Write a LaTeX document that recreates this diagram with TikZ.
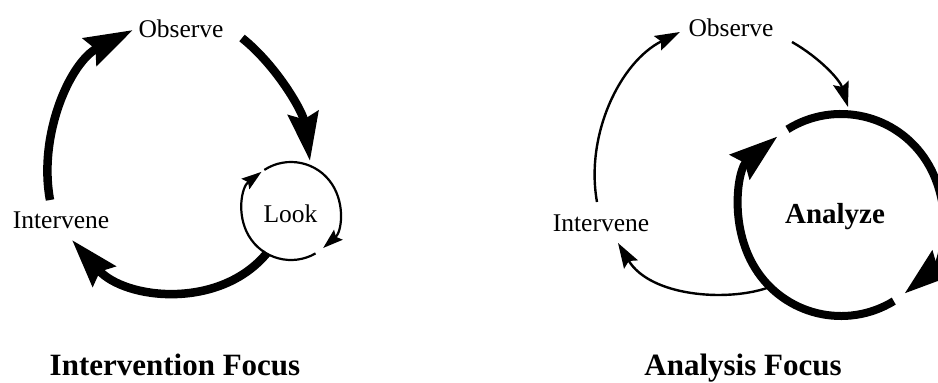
\documentclass[tikz,border=0pt]{standalone}
\usepackage{fontspec}
\setmainfont{Liberation Serif}
\usetikzlibrary{arrows.meta}
\begin{document}
\begin{tikzpicture}[x=1pt,y=-1pt,
  lbl/.style={inner sep=0pt, anchor=base, font=\fontsize{25.5}{30}\selectfont},
  boldlbl/.style={inner sep=0pt, anchor=base, font=\fontsize{29}{34}\selectfont\bfseries},
  ttl/.style={inner sep=0pt, anchor=base, font=\fontsize{31}{36}\selectfont\bfseries},
  bigarrow/.style={line width=8.5pt, -{Stealth[length=48pt,width=30pt,inset=6pt]}},
  ringarrow/.style={line width=8pt, -{Stealth[length=48pt,width=31pt,inset=6pt]}},
  thinarrow/.style={line width=2.4pt, -{Stealth[length=25pt,width=16pt,inset=4pt]}},
  lookarrow/.style={line width=2.2pt, -{Stealth[length=20pt,width=13pt,inset=3pt]}}
]
\useasboundingbox (0,0) rectangle (938,383);

% ---------- Intervention Focus ----------
\node[lbl] (obsL) at (181,37) {Observe};
\node[lbl] (intL) at (61,228) {Intervene};
\node[lbl] (look) at (290.5,222) {Look};
\coordinate (lookc) at (291,211);

\coordinate (l1s) at (50,200);
\coordinate (l1e) at (133,30);
\coordinate (l2s) at (242,38);
\coordinate (l2e) at (310,161);
\coordinate (l3s) at (267,253);
\coordinate (l3e) at (72,240);

\draw[bigarrow] (l1s) .. controls (38,135) and (70,62) .. (l1e);
\draw[bigarrow] (l2s) .. controls (277,66) and (303,112) .. (l2e);
\draw[bigarrow] (l3s) .. controls (220,310) and (125,300) .. (l3e);

\draw[lookarrow] ([shift={(237:49)}]lookc) arc[start angle=237, end angle=409, radius=49];
\draw[lookarrow] ([shift={(60:49)}]lookc) arc[start angle=60, end angle=233, radius=49];

\node[ttl] (ttlL) at (175,375) {Intervention Focus};

% ---------- Analysis Focus ----------
\node[lbl] (obsR) at (731,36) {Observe};
\node[lbl] (intR) at (601,231) {Intervene};
\node[boldlbl] (anl) at (835,223) {Analyze};
\coordinate (anlc) at (841,215);

\coordinate (r1s) at (597,202);
\coordinate (r1e) at (680,32);
\coordinate (r2s) at (792,42);
\coordinate (r2e) at (848,107);
\coordinate (r3s) at (767,288);
\coordinate (r3e) at (618,243);

\draw[thinarrow] (r1s) .. controls (585,135) and (620,62) .. (r1e);
\draw[thinarrow] (r2s) .. controls (820,58) and (840,80) .. (r2e);
\draw[thinarrow] (r3s) .. controls (725,302) and (650,296) .. (r3e);

\draw[ringarrow] ([shift={(238:101)}]anlc) arc[start angle=238, end angle=411, radius=101];
\draw[ringarrow] ([shift={(58.5:101)}]anlc) arc[start angle=58.5, end angle=231, radius=101];

\node[ttl] (ttlR) at (743,375) {Analysis Focus};
\end{tikzpicture}
\end{document}
